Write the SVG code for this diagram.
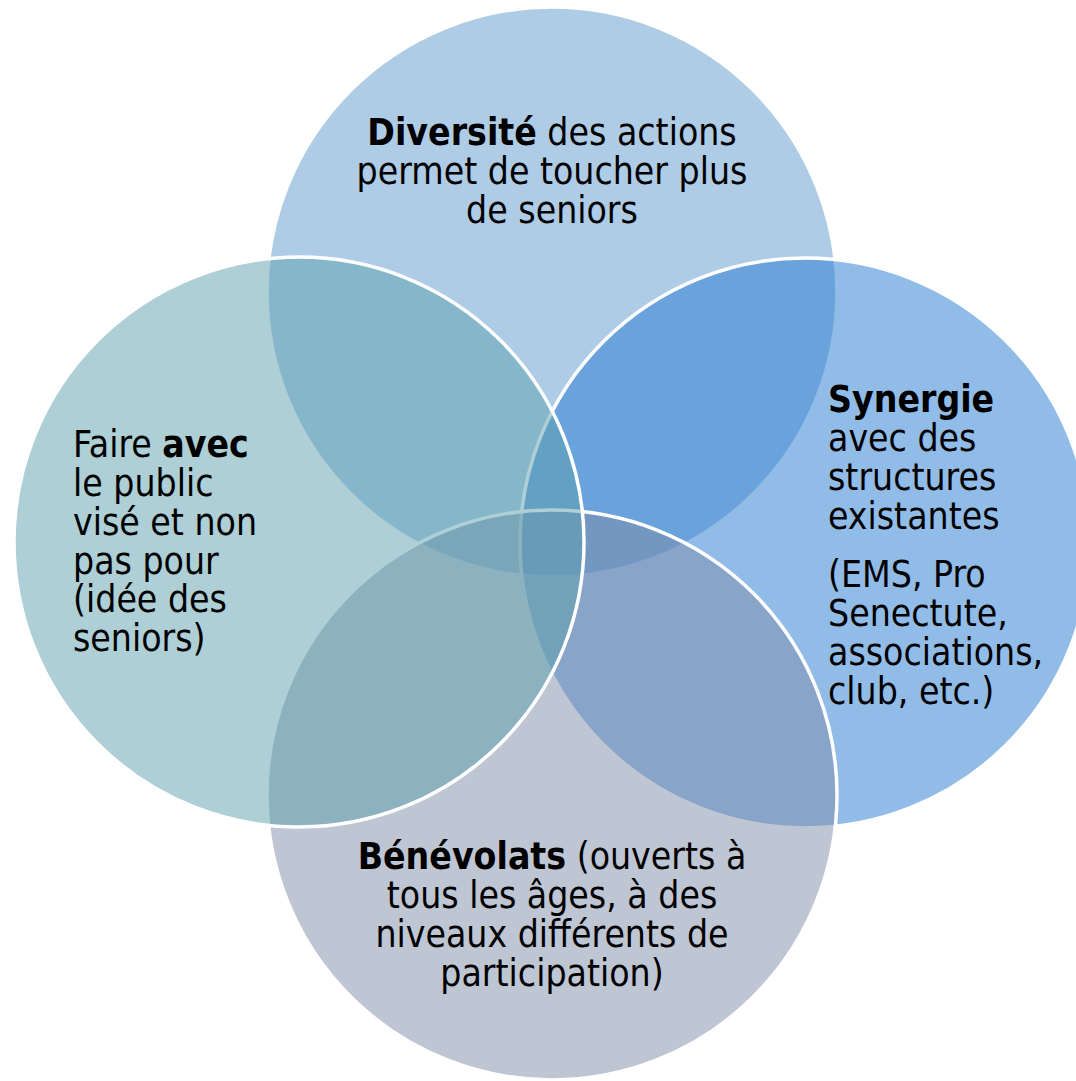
<svg xmlns="http://www.w3.org/2000/svg" width="1076" height="1081" viewBox="0 0 1076 1081">
<style>
.c{stroke:#fff;stroke-width:3.5;fill-opacity:0.5}
.t{font-family:"DejaVu Sans Condensed","DejaVu Sans",sans-serif;font-stretch:condensed;font-size:37px;fill:#000}
.b{font-weight:bold}
.m{text-anchor:middle}
</style>
<rect width="1076" height="1081" fill="#fff"/>
<g id="node-diversite">
<circle class="c" cx="552" cy="292" r="285" fill="#5F99CD"/>
<text class="t m"><tspan x="552" y="145"><tspan class="b">Diversité</tspan> des actions</tspan><tspan x="552" y="184">permet de toucher plus</tspan><tspan x="552" y="223">de seniors</tspan></text>
</g>
<g id="node-synergie">
<circle class="c" cx="805" cy="543" r="285" fill="#2579D1"/>
<text class="t"><tspan class="b" x="828" y="412">Synergie</tspan><tspan x="828" y="451">avec des</tspan><tspan x="828" y="490">structures</tspan><tspan x="828" y="529">existantes</tspan></text>
<text class="t"><tspan x="828" y="587">(EMS, Pro</tspan><tspan x="828" y="626">Senectute,</tspan><tspan x="828" y="665">associations,</tspan><tspan x="828" y="704">club, etc.)</tspan></text>
</g>
<g id="node-benevolats">
<circle class="c" cx="552" cy="795" r="285" fill="#7D8BA7"/>
<text class="t m"><tspan x="552" y="869"><tspan class="b">Bénévolats</tspan> (ouverts à</tspan><tspan x="552" y="908">tous les âges, à des</tspan><tspan x="552" y="947">niveaux différents de</tspan><tspan x="552" y="986">participation)</tspan></text>
</g>
<g id="node-faire-avec">
<circle class="c" cx="299" cy="542" r="285" fill="#5B9FAB"/>
<text class="t"><tspan x="73" y="457">Faire <tspan class="b">avec</tspan></tspan><tspan x="73" y="496">le public</tspan><tspan x="73" y="535">visé et non</tspan><tspan x="73" y="574">pas pour</tspan><tspan x="73" y="612">(idée des</tspan><tspan x="73" y="651">seniors)</tspan></text>
</g>
<g id="connectors"></g>
</svg>
